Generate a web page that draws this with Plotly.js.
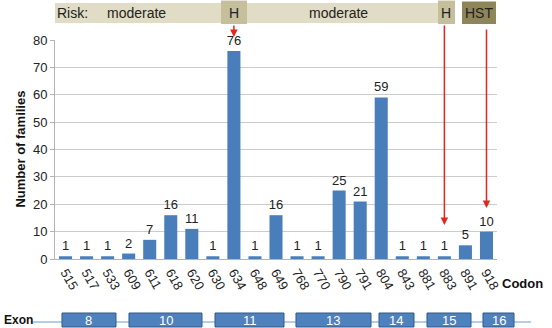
<!DOCTYPE html>
<html><head><meta charset="utf-8">
<script src="https://cdn.plot.ly/plotly-3.0.1.min.js"></script>
<style>html,body{margin:0;padding:0;background:#fff}#chart{width:552px;height:328px}</style>
</head><body><div id="chart"></div><script>
// ---- data ----
const codons = ['515','517','533','609','611','618','620','630','634','648','649','768','770','790','791','804','843','881','883','891','918'];
const families = [1,1,1,2,7,16,11,1,76,1,16,1,1,25,21,59,1,1,1,5,10];
const riskLabels = ['moderate','H','moderate','H','HST'];
const exonLabels = ['8','10','11','13','14','15','16'];
const arrowCodons = ['634','883','918'];

// ---- layout helpers (paper coordinates) ----
const FONT = 'Liberation Sans, Arial, Helvetica, sans-serif';
const riskBoxes = [
  {x0:0, x1:0.8665, y0:1.078, y1:1.169, color:'#e0dcc5'},
  {x0:0.3756, x1:0.4344, y0:1.073, y1:1.180, color:'#c5bf9c'},
  {x0:0.8665, x1:0.905, y0:1.073, y1:1.180, color:'#c5bf9c'},
  {x0:0.9208, x1:0.9977, y0:1.073, y1:1.176, color:'#8e8658'}
];
const riskTextX = [0.1855, 0.405, 0.6425, 0.8857, 0.959];
const exonSpans = [[0.0158,0.138],[0.1674,0.3326],[0.362,0.5181],[0.5452,0.7149],[0.733,0.8122],[0.8416,0.9412],[0.9683,1.0385]];
const arrowGeom = [{y:1.0137, ay:-13},{y:0.155, ay:-201},{y:0.2329, ay:-180}];

const shapes = [];
const annotations = [];
riskBoxes.forEach(b => shapes.push({type:'rect', xref:'paper', yref:'paper', x0:b.x0, x1:b.x1, y0:b.y0, y1:b.y1, fillcolor:b.color, line:{width:0}, layer:'above'}));
annotations.push({text:'Risk:', xref:'paper', yref:'paper', x:0, y:1.123, xanchor:'left', yanchor:'middle', showarrow:false, font:{family:FONT, size:14, color:'#222'}});
riskLabels.forEach((t,i) => annotations.push({text:t, xref:'paper', yref:'paper', x:riskTextX[i], y:1.123, xanchor:'center', yanchor:'middle', showarrow:false, font:{family:FONT, size:14, color:'#222'}}));

// exon track
shapes.push({type:'line', xref:'paper', yref:'paper', x0:-0.0543, x1:1.0769, y0:-0.2877, y1:-0.2877, line:{color:'#6b9bd2', width:1}});
exonSpans.forEach((s,i) => {
  shapes.push({type:'rect', xref:'paper', yref:'paper', x0:s[0], x1:s[1], y0:-0.3105, y1:-0.2466, fillcolor:'#4f81bd', line:{color:'#2f5b8f', width:1}});
  annotations.push({text:exonLabels[i], xref:'paper', yref:'paper', x:(s[0]+s[1])/2, y:-0.2786, xanchor:'center', yanchor:'middle', showarrow:false, borderpad:0, font:{family:FONT, size:13, color:'#ffffff'}});
});
annotations.push({text:'<b>Exon</b>', xref:'paper', yref:'paper', x:-0.117, y:-0.2785, xanchor:'left', yanchor:'middle', showarrow:false, borderpad:0, font:{family:FONT, size:12, color:'#111'}});
annotations.push({text:'<b>Codon</b>', xref:'paper', yref:'paper', x:1.006, y:-0.11, xanchor:'left', yanchor:'middle', showarrow:false, font:{family:FONT, size:13, color:'#111'}});
annotations.push({text:'<b>Number of families</b>', xref:'paper', yref:'paper', x:-0.079, y:0.5, xanchor:'center', yanchor:'middle', textangle:-90, showarrow:false, font:{family:FONT, size:13, color:'#111'}});

arrowCodons.forEach((c,i) => annotations.push({text:'', xref:'x', yref:'paper', x:codons.indexOf(c), y:arrowGeom[i].y, ax:0, ay:arrowGeom[i].ay, showarrow:true, arrowhead:2, arrowsize:1, arrowwidth:1.5, arrowcolor:'#e3261f', standoff:0, startstandoff:0}));

const trace = {
  type:'bar', x:codons, y:families,
  marker:{color:'#4a7ebb', line:{width:0}},
  text:families.map(String), textposition:'outside', cliponaxis:false, constraintext:'none',
  textfont:{family:FONT, size:13, color:'#222'},
  hoverinfo:'skip'
};

const layout = {
  width:552, height:328,
  margin:{l:55, r:55, t:40, b:69, pad:0},
  paper_bgcolor:'#fff', plot_bgcolor:'#fff',
  showlegend:false,
  bargap:0.38,
  font:{family:FONT, color:'#222'},
  xaxis:{type:'category', range:[-0.5, codons.length-0.5], autorange:false, tickangle:60, tickfont:{family:FONT, size:13, color:'#222'}, showline:true, linecolor:'#b5b5b5', linewidth:1, ticks:'', showgrid:false, fixedrange:true},
  yaxis:{range:[0,80], dtick:10, tickfont:{family:FONT, size:13, color:'#222'}, showline:true, linecolor:'#b5b5b5', ticks:'outside', ticklen:4, tickcolor:'#b5b5b5', gridcolor:'#cccccc', gridwidth:1, zeroline:false, fixedrange:true},
  shapes:shapes, annotations:annotations
};

Plotly.newPlot('chart', [trace], layout, {displayModeBar:false, staticPlot:true});
</script></body></html>
